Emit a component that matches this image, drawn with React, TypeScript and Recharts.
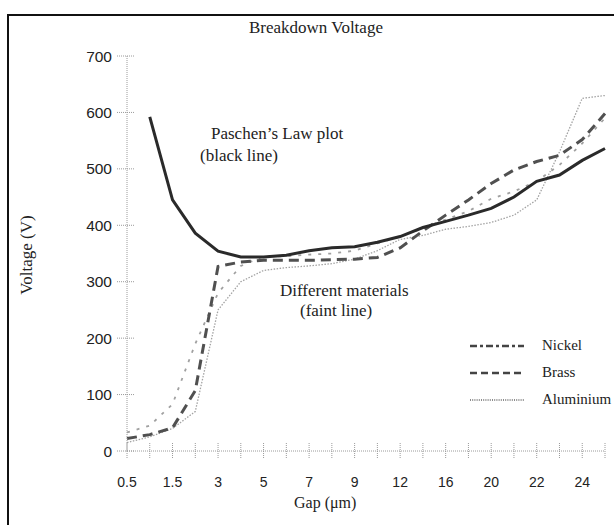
import React, {FC} from 'react';
import {LineChart, Line, XAxis, YAxis, Legend} from 'recharts';

const gaps = ['0.5', '1', '1.5', '2', '3', '4', '5', '6', '7', '8', '9', '10', '12', '14', '16', '18', '20', '21', '22', '23', '24', '25'];
const paschen = [null, 592, 445, 386, 354, 344, 344, 347, 355, 360, 362, 370, 380, 396, 407, 418, 430, 450, 478, 489, 515, 536];
const nickel = [33, 45, 83, 190, 280, 328, 345, 345, 348, 350, 355, 368, 380, 395, 410, 425, 447, 460, 478, 507, 545, 590];
const brass = [22, 29, 41, 107, 327, 335, 338, 338, 338, 339, 340, 343, 360, 390, 418, 445, 474, 498, 513, 524, 552, 598];
const aluminium = [15, 25, 40, 70, 250, 300, 320, 325, 328, 332, 340, 355, 375, 382, 393, 398, 405, 418, 445, 530, 625, 630];
const yTicks = [0, 100, 200, 300, 400, 500, 600, 700];
const legendOrder = ['Nickel', 'Brass', 'Aluminium'];

const data = gaps.map((gap, i) => ({
     gap,
     paschen: paschen[i],
     nickel: nickel[i],
     brass: brass[i],
     aluminium: aluminium[i],
}));

const SERIF = '"Liberation Serif", "Times New Roman", serif';
const SANS = '"Liberation Sans", Arial, sans-serif';
const TICK_SIZE = 6;
const TICK_MARGIN = 2;

// legend samples don't quite match the plotted dashes in the original
const LEGEND_STYLE: Record<string, {dash: string; width: number; color: string}> = {
     Nickel: {dash: '7 3 3 3', width: 2.5, color: '#444'},
     Brass: {dash: '7 4', width: 2.5, color: '#444'},
     Aluminium: {dash: '1 1.2', width: 1.5, color: '#666'},
};

const XTick: FC<any> = ({x, y, payload, index}) => {
     const axisY = y - TICK_SIZE - TICK_MARGIN;
     return (
          <g>
               <line x1={x} x2={x} y1={axisY - 8} y2={axisY + 7} stroke="#9a9a9a" strokeDasharray="1 1" />
               {index % 2 === 0 && (
                    <text x={x} y={axisY + 36} textAnchor="middle" fontFamily={SANS} fontSize={14} fill="#222">
                         {payload.value}
                    </text>
               )}
          </g>
     );
};

const YTick: FC<any> = ({x, y, payload}) => {
     const axisX = x + TICK_SIZE + TICK_MARGIN;
     return (
          <g>
               <line x1={axisX - 10} x2={axisX + 8} y1={y} y2={y} stroke="#9a9a9a" strokeDasharray="1 1" />
               <text x={axisX - 15} y={y + 5.5} textAnchor="end" fontFamily={SANS} fontSize={15.5} fill="#222">
                    {payload.value}
               </text>
          </g>
     );
};

const MaterialLegend: FC<any> = ({payload}) => {
     const items = (payload || [])
          .filter((p: any) => LEGEND_STYLE[p.value])
          .sort((a: any, b: any) => legendOrder.indexOf(a.value) - legendOrder.indexOf(b.value));
     return (
          <div>
               {items.map((p: any) => {
                    const s = LEGEND_STYLE[p.value];
                    return (
                         <div key={p.value} style={{display: 'flex', alignItems: 'center', height: 27}}>
                              <svg width={58} height={10}>
                                   <line x1={2} x2={56} y1={5} y2={5} stroke={s.color} strokeWidth={s.width} strokeDasharray={s.dash} />
                              </svg>
                              <span style={{marginLeft: 16, fontFamily: SERIF, fontSize: 15, color: '#222', whiteSpace: 'nowrap'}}>{p.value}</span>
                         </div>
                    );
               })}
          </div>
     );
};

const label = (text: string, left: number, top: number, size = 17): React.ReactNode => (
     <div style={{position: 'absolute', left, top, fontFamily: SERIF, fontSize: size, lineHeight: '18px', color: '#222', whiteSpace: 'nowrap'}}>
          {text}
     </div>
);

const App: FC = () => {
     return (
          <div style={{position: 'fixed', left: 0, top: 0, width: 614, height: 525, background: '#fff', overflow: 'hidden'}}>
               <div style={{position: 'absolute', left: 7, top: 14, right: 0, bottom: 0, borderLeft: '2px solid #111', borderTop: '2px solid #111'}} />
               <LineChart width={614} height={525} data={data} margin={{top: 56, right: 9, bottom: 44, left: 67}}>
                    <XAxis
                         dataKey="gap"
                         interval={0}
                         height={30}
                         tickSize={TICK_SIZE}
                         tickMargin={TICK_MARGIN}
                         tickLine={false}
                         axisLine={{stroke: '#9a9a9a', strokeDasharray: '1 1'}}
                         tick={<XTick />}
                    />
                    <YAxis
                         domain={[0, 700]}
                         ticks={yTicks}
                         width={60}
                         tickSize={TICK_SIZE}
                         tickMargin={TICK_MARGIN}
                         tickLine={false}
                         axisLine={{stroke: '#9a9a9a', strokeDasharray: '1 1'}}
                         tick={<YTick />}
                    />
                    <Legend
                         layout="vertical"
                         align="center"
                         verticalAlign="middle"
                         wrapperStyle={{left: 468, top: 332, width: 150}}
                         content={<MaterialLegend />}
                    />
                    <Line dataKey="aluminium" name="Aluminium" stroke="#a3a3a3" strokeWidth={1.3} strokeDasharray="1.5 1.5" dot={false} isAnimationActive={false} />
                    <Line dataKey="nickel" name="Nickel" stroke="#a0a0a0" strokeWidth={1.8} strokeDasharray="3 7" dot={false} isAnimationActive={false} />
                    <Line dataKey="brass" name="Brass" stroke="#505050" strokeWidth={3} strokeDasharray="10 6" dot={false} isAnimationActive={false} />
                    <Line dataKey="paschen" name="Paschen" stroke="#2a2a2a" strokeWidth={3} dot={false} isAnimationActive={false} legendType="none" />
               </LineChart>
               {label('Breakdown Voltage', 249, 19, 17)}
               {label('Paschen’s Law plot', 211, 125)}
               {label('(black line)', 200, 147)}
               {label('Different materials', 280, 282)}
               {label('(faint line)', 300, 302)}
               {label('Gap (μm)', 294, 494, 16)}
               <div
                    style={{
                         position: 'absolute',
                         left: -23,
                         top: 246,
                         width: 100,
                         textAlign: 'center',
                         fontFamily: SERIF,
                         fontSize: 17,
                         lineHeight: '18px',
                         color: '#222',
                         transform: 'rotate(-90deg)',
                    }}
               >
                    Voltage (V)
               </div>
          </div>
     );
};

export default App;
